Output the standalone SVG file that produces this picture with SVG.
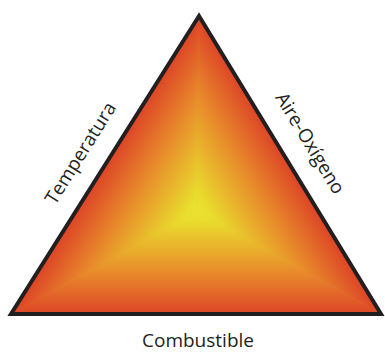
<svg xmlns="http://www.w3.org/2000/svg" width="385" height="352" viewBox="0 0 385 352">
  <style>
    .lbl { font-family: "Open Sans", "Liberation Sans", sans-serif; font-size: 19px; fill: #231f20; }
    .edge { fill: none; stroke: #231f20; stroke-width: 4; stroke-linejoin: miter; }
  </style>
  <defs>
    <linearGradient id="gB" gradientUnits="userSpaceOnUse" x1="197.6" y1="314" x2="197.6" y2="211.4">
      <stop offset="0" stop-color="#dd4527"/>
      <stop offset="0.4" stop-color="#e88a2b"/>
      <stop offset="0.9" stop-color="#e9dc2d"/>
      <stop offset="1" stop-color="#ebe230"/>
    </linearGradient>
    <linearGradient id="gL" gradientUnits="userSpaceOnUse" x1="110.7" y1="156.9" x2="197.6" y2="211.4">
      <stop offset="0" stop-color="#dd4527"/>
      <stop offset="0.4" stop-color="#e88a2b"/>
      <stop offset="0.9" stop-color="#e9dc2d"/>
      <stop offset="1" stop-color="#ebe230"/>
    </linearGradient>
    <linearGradient id="gR" gradientUnits="userSpaceOnUse" x1="285.3" y1="158.1" x2="197.6" y2="211.4">
      <stop offset="0" stop-color="#dd4527"/>
      <stop offset="0.4" stop-color="#e88a2b"/>
      <stop offset="0.9" stop-color="#e9dc2d"/>
      <stop offset="1" stop-color="#ebe230"/>
    </linearGradient>
  </defs>
  <g id="triangle">
    <polygon points="199,16 11,314 381,314" fill="#e88a2b"/>
    <polygon points="197.6,211.4 11,314 381,314" fill="url(#gB)" stroke="url(#gB)" stroke-width="0.5"/>
    <polygon points="197.6,211.4 199,16 11,314" fill="url(#gL)" stroke="url(#gL)" stroke-width="0.5"/>
    <polygon points="197.6,211.4 199,16 381,314" fill="url(#gR)" stroke="url(#gR)" stroke-width="0.5"/>
    <polygon class="edge" points="199,16 11,314 381,314"/>
  </g>
  <g id="label-temperatura">
    <text class="lbl" text-anchor="middle" transform="translate(86,156.5) rotate(-57.9)">Temperatura</text>
  </g>
  <g id="label-aire">
    <text class="lbl" text-anchor="middle" transform="translate(304.5,146.5) rotate(58.7)">Aire-Oxígeno</text>
  </g>
  <g id="label-combustible">
    <text class="lbl" text-anchor="middle" x="198" y="347">Combustible</text>
  </g>
</svg>
